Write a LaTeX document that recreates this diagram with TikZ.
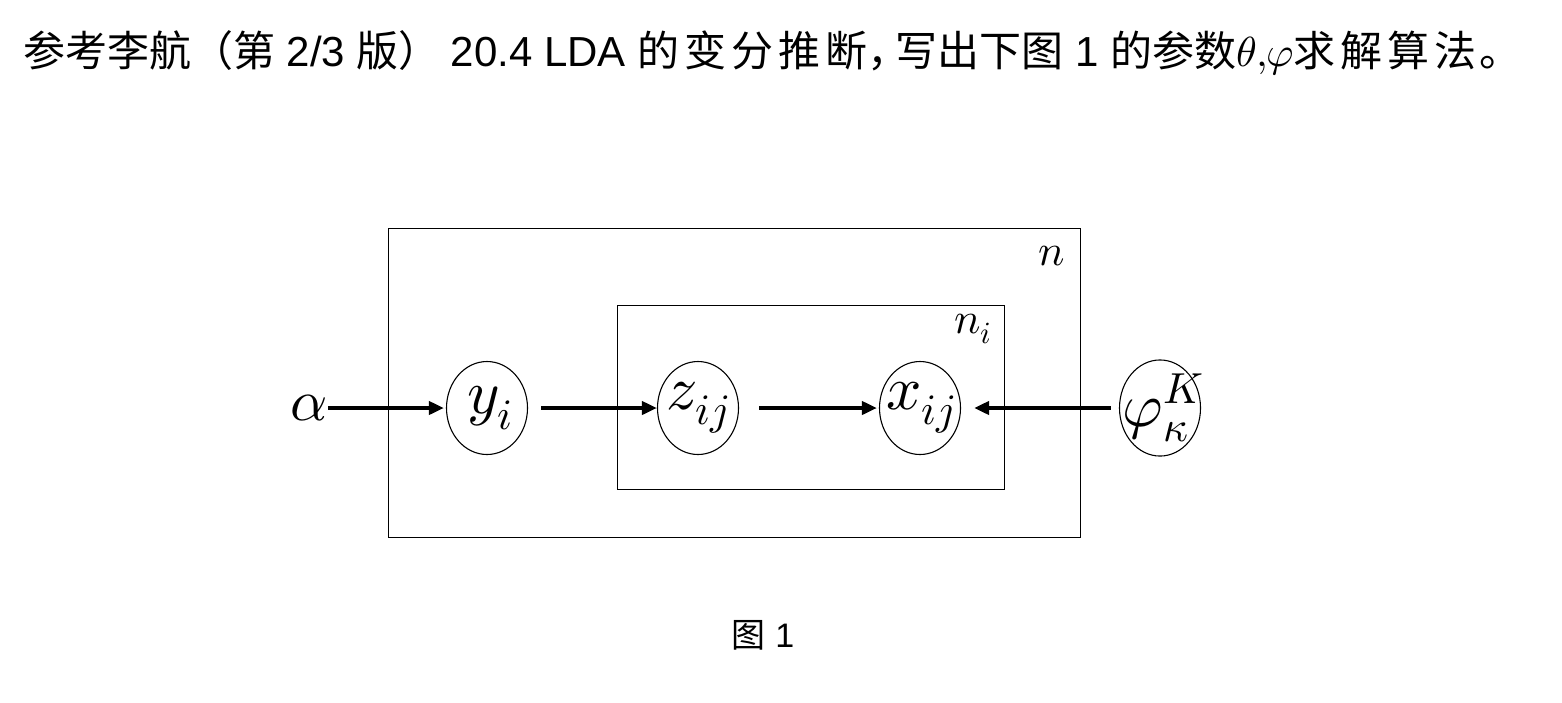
\documentclass[tikz,border=0pt]{standalone}
\usepackage{fontspec}
\usepackage{unicode-math}
\setmainfont{Liberation Sans}
\setmathfont{Latin Modern Math}
\newfontfamily\cjk{Noto Sans CJK SC}
\newcommand\kk{\kern5pt}
\newcommand\varlabel[2][0pt]{\hspace*{#1}\makebox[0pt]{$#2$}}
\usetikzlibrary{arrows.meta,shapes.geometric}
\tikzset{
  plate/.style={draw, line width=1.4pt},
  var/.style={draw, ellipse, line width=1.1pt, minimum width=81pt, minimum height=93pt, inner sep=0pt, font=\fontsize{62}{62}\selectfont},
  arr/.style={line width=3.8pt, -{Triangle[length=15pt,width=13pt]}},
  lbl/.style={inner sep=0pt, font=\fontsize{58}{58}\selectfont},
  platelbl/.style={inner sep=0pt, font=\fontsize{44}{44}\selectfont}
}
\begin{document}
\begin{tikzpicture}[x=1pt,y=-1pt]
\useasboundingbox (0,0) rectangle (1562,702);
\node[anchor=base west, inner sep=0pt, font=\fontsize{42}{42}\selectfont] (title) at (23,66)
  {{\cjk 参考李航（第} 2/3 {\cjk 版）}\kern10pt 20.4 LDA {\cjk 的\kk 变\kk 分\kk 推\kk 断，\kern-14pt 写出下图} 1 {\cjk 的参数}$\theta{,}\kern-2pt\varphi${\cjk 求\kk 解\kk 算\kk 法\kern3pt 。}};
\node[plate, minimum width=692pt, minimum height=309pt, anchor=north west] (outer) at (388,228) {};
\node[plate, minimum width=387pt, minimum height=184pt, anchor=north west] (inner) at (617,305) {};
\node[platelbl] (nlab) at (1052,256) {$n$};
\node[platelbl] (nilab) at (973,329) {$n_i$};
\node[lbl, anchor=east] (alpha) at (328,408) {$\alpha$};
\node[var] (y) at (487,408) {\varlabel[6pt]{y_i}};
\node[var] (z) at (698,408) {\varlabel{z_{ij}}};
\node[var] (x) at (920,408) {\varlabel[2pt]{x_{ij}}};
\node[var] (phi) at (1160,408) {\varlabel[6pt]{\varphi_\kappa^K}};
\draw[arr, shorten >=2pt] (alpha) -- (y);
\draw[arr, shorten <=13pt] (y) -- (z);
\draw[arr, shorten <=20pt, shorten >=2pt] (z) -- (x);
\draw[arr, shorten <=8pt, shorten >=13pt] (phi) -- (x);
\node[anchor=base, inner sep=0pt, font=\fontsize{34}{34}\selectfont] (cap) at (763,647) {{\cjk 图} 1};
\end{tikzpicture}
\end{document}
